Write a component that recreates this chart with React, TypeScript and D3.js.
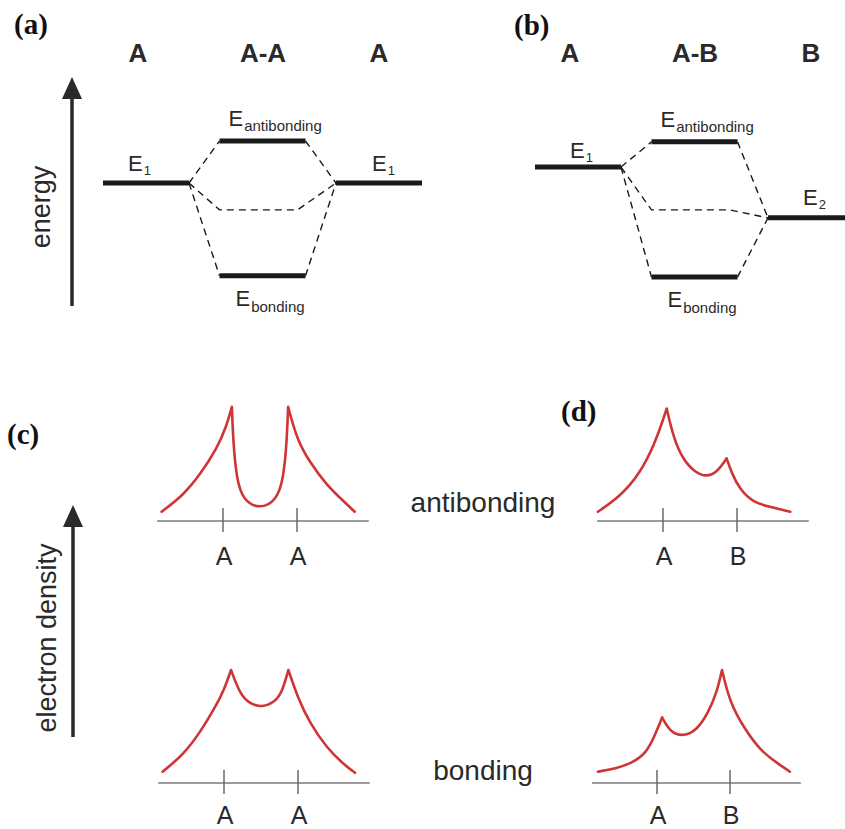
import React from 'react';
import * as d3 from 'd3';

const W = 845;
const H = 829;

// ---------- (a) / (b) energy level diagrams ----------
const headingsA = ['A', 'A-A', 'A'];
const headingsB = ['A', 'A-B', 'B'];
// energies (arbitrary units): [left atom, antibonding, bonding, mean (dashed), right atom]
const levelsA = [0, 1.0, -2.21, -0.64, 0];
const levelsB = [0.38, 0.98, -2.24, -0.64, -0.83];
const leftSubA = '1';
const rightSubA = '1';
const leftSubB = '1';
const rightSubB = '2';

// ---------- (c) / (d) electron density profiles ----------
// x: position along bond axis (first nucleus = 0, second nucleus = 1); v: relative density
const cAntiX = [-0.83, -0.54, -0.31, -0.085, 0.05, 0.12, 0.14, 0.185, 0.27, 0.5, 0.725, 0.815, 0.86, 0.88, 1.0, 1.18, 1.4, 1.63, 1.78];
const cAntiV = [0.08, 0.22, 0.4, 0.62, 0.82, 0.985, 0.66, 0.36, 0.18, 0.1, 0.18, 0.36, 0.66, 0.985, 0.7, 0.5, 0.31, 0.17, 0.08];
const cBondX = [-0.83, -0.55, -0.32, -0.1, 0.01, 0.095, 0.22, 0.35, 0.51, 0.67, 0.78, 0.87, 1.0, 1.16, 1.39, 1.61, 1.77];
const cBondV = [0.1, 0.25, 0.45, 0.69, 0.84, 1.0, 0.78, 0.7, 0.67, 0.71, 0.79, 1.0, 0.75, 0.53, 0.31, 0.17, 0.09];
const dAntiX = [-0.88, -0.58, -0.31, -0.11, 0.0, 0.05, 0.14, 0.27, 0.43, 0.59, 0.73, 0.86, 0.93, 1.04, 1.22, 1.45, 1.72];
const dAntiV = [0.08, 0.21, 0.41, 0.67, 0.87, 0.97, 0.72, 0.53, 0.42, 0.38, 0.42, 0.54, 0.41, 0.27, 0.16, 0.12, 0.08];
const dBondX = [-0.81, -0.55, -0.33, -0.14, -0.03, 0.07, 0.18, 0.36, 0.55, 0.7, 0.82, 0.89, 1.0, 1.18, 1.41, 1.64, 1.82];
const dBondV = [0.1, 0.13, 0.18, 0.27, 0.42, 0.58, 0.45, 0.41, 0.47, 0.62, 0.8, 1.0, 0.71, 0.5, 0.29, 0.18, 0.1];
const nucleiC = ['A', 'A'];
const nucleiD = ['A', 'B'];
const axisDomain = [-0.89, 1.97];
const rowLabels = ['antibonding', 'bonding'];

const SANS = '"Liberation Sans", Arial, Helvetica, sans-serif';
const SERIF = '"Liberation Serif", "Times New Roman", serif';
const INK = '#2a2a2a';
const RED = '#cf3535';

function Tag({ x, y, text }: { x: number; y: number; text: string }) {
  return (
    <text x={x} y={y} fontFamily={SERIF} fontWeight="bold" fontSize={29} fill="#111">
      {text}
    </text>
  );
}

function ELabel({ x, y, sub, subSize, dy }: { x: number; y: number; sub: string; subSize: number; dy: number }) {
  return (
    <text x={x} y={y} fontFamily={SANS} fontSize={22} fill={INK}>
      E
      <tspan fontSize={subSize} dy={dy} dx={1}>
        {sub}
      </tspan>
    </text>
  );
}

function EnergyPanel({
  x0,
  levels,
  headings,
  leftSub,
  rightSub,
  eLabelY,
}: {
  x0: number;
  levels: number[];
  headings: string[];
  leftSub: string;
  rightSub: string;
  eLabelY: number[];
}) {
  const yE = d3.scaleLinear().domain([0, 1]).range([183, 141]);
  const xCol = d3.scaleLinear().domain([0, 2]).range([x0, x0 + 233]);
  const lw = 86;
  const [eL, eAnti, eBond, eMid, eR] = levels;
  const pL: [number, number] = [xCol(0) + lw, yE(eL)];
  const pR: [number, number] = [xCol(2), yE(eR)];
  const lineGen = d3.line();
  const dashes = [
    [pL, [xCol(1), yE(eAnti)]],
    [pL, [xCol(1), yE(eBond)]],
    [pL, [xCol(1), yE(eMid)], [xCol(1) + 78, yE(eMid)], pR],
    [[xCol(1) + lw, yE(eAnti)], pR],
    [[xCol(1) + lw, yE(eBond)], pR],
  ] as [number, number][][];
  const levelSegs: [number, number, number][] = [
    [xCol(0), xCol(0) + lw, yE(eL)],
    [xCol(1), xCol(1) + lw, yE(eAnti)],
    [xCol(1), xCol(1) + lw, yE(eBond)],
    [xCol(2), xCol(2) + lw, yE(eR)],
  ];
  const headX = [35, 160, 276];
  return (
    <g>
      {headings.map((h, i) => (
        <text
          key={i}
          x={x0 + headX[i]}
          y={62}
          textAnchor="middle"
          fontFamily={SANS}
          fontWeight="bold"
          fontSize={26}
          fill={INK}
        >
          {h}
        </text>
      ))}
      {dashes.map((d, i) => (
        <path key={i} d={lineGen(d) || ''} fill="none" stroke="#1a1a1a" strokeWidth={1.4} strokeDasharray="7,5" />
      ))}
      {levelSegs.map((s, i) => (
        <line key={i} x1={s[0]} x2={s[1]} y1={s[2]} y2={s[2]} stroke="#1a1a1a" strokeWidth={5} />
      ))}
      <ELabel x={xCol(0) + eLabelY[0]} y={yE(eL) - eLabelY[1]} sub={leftSub} subSize={13} dy={4} />
      <ELabel x={xCol(2) + eLabelY[2]} y={yE(eR) - eLabelY[3]} sub={rightSub} subSize={13} dy={4} />
      <ELabel x={xCol(1) + 9} y={yE(eAnti) - 15} sub="antibonding" subSize={15} dy={5} />
      <ELabel x={xCol(1) + 16} y={yE(eBond) + 30} sub="bonding" subSize={15} dy={6} />
    </g>
  );
}

function DensityPlot({
  xs,
  vs,
  nuclei,
  x0,
  unit,
  axisY,
  vPx,
  labelDy,
}: {
  xs: number[];
  vs: number[];
  nuclei: string[];
  x0: number;
  unit: number;
  axisY: number;
  vPx: number;
  labelDy: number;
}) {
  const sx = d3.scaleLinear().domain([0, 1]).range([x0, x0 + unit]);
  const sy = d3.scaleLinear().domain([0, 1]).range([axisY, axisY - vPx]);
  const pts: [number, number][] = xs.map((x, i) => [x, vs[i]]);
  // split at cusps (local maxima)
  const segs: [number, number][][] = [];
  let cur: [number, number][] = [];
  pts.forEach((p, i) => {
    cur.push(p);
    if (i > 0 && i < pts.length - 1 && p[1] > pts[i - 1][1] && p[1] > pts[i + 1][1]) {
      segs.push(cur);
      cur = [p];
    }
  });
  segs.push(cur);
  const line = d3
    .line<[number, number]>()
    .x((d) => sx(d[0]))
    .y((d) => sy(d[1]))
    .curve(d3.curveBasis);
  const d = segs.map((s) => line(s) || '').join('');
  return (
    <g>
      <line x1={sx(axisDomain[0])} x2={sx(axisDomain[1])} y1={axisY} y2={axisY} stroke="#7a7a7a" strokeWidth={1.5} />
      {nuclei.map((n, i) => (
        <g key={i}>
          <line x1={sx(i)} x2={sx(i)} y1={axisY - 13} y2={axisY + 11} stroke="#6a6a6a" strokeWidth={1.5} />
          <text x={sx(i) + 1} y={axisY + labelDy} textAnchor="middle" fontFamily={SANS} fontSize={25} fill={INK}>
            {n}
          </text>
        </g>
      ))}
      <path d={d} fill="none" stroke={RED} strokeWidth={2.6} strokeLinejoin="round" strokeLinecap="round" />
    </g>
  );
}

function Arrow({ x, yTop, yBottom }: { x: number; yTop: number; yBottom: number }) {
  return (
    <g>
      <line x1={x} x2={x} y1={yBottom} y2={yTop + 20} stroke="#2a2a2a" strokeWidth={3.5} />
      <path d={`M${x - 10},${yTop + 22} L${x},${yTop} L${x + 10},${yTop + 22} Z`} fill="#2a2a2a" />
    </g>
  );
}

export default function App() {
  return (
    <svg
      width={W}
      height={H}
      viewBox={`0 0 ${W} ${H}`}
      style={{ position: 'absolute', left: 0, top: 0, display: 'block', background: '#fff' }}
    >
      <rect width={W} height={H} fill="#fff" />
      <Tag x={14} y={34} text="(a)" />
      <Tag x={514} y={35} text="(b)" />
      <Tag x={7} y={444} text="(c)" />
      <Tag x={561} y={421} text="(d)" />

      {/* energy axis */}
      <Arrow x={72} yTop={77} yBottom={306} />
      <text
        transform="translate(50,207) rotate(-90)"
        textAnchor="middle"
        fontFamily={SANS}
        fontSize={27}
        fill={INK}
      >
        energy
      </text>

      <EnergyPanel
        x0={103}
        levels={levelsA}
        headings={headingsA}
        leftSub={leftSubA}
        rightSub={rightSubA}
        eLabelY={[25, 12, 36, 12]}
      />
      <EnergyPanel
        x0={535}
        levels={levelsB}
        headings={headingsB}
        leftSub={leftSubB}
        rightSub={rightSubB}
        eLabelY={[35, 9, 35, 13]}
      />

      {/* electron density axis */}
      <Arrow x={73} yTop={505} yBottom={737} />
      <text
        transform="translate(56,638) rotate(-90)"
        textAnchor="middle"
        fontFamily={SANS}
        fontSize={27}
        fill={INK}
      >
        electron density
      </text>

      <text x={483} y={512} textAnchor="middle" fontFamily={SANS} fontSize={28} fill={INK}>
        {rowLabels[0]}
      </text>
      <text x={483} y={780} textAnchor="middle" fontFamily={SANS} fontSize={28} fill={INK}>
        {rowLabels[1]}
      </text>

      <DensityPlot xs={cAntiX} vs={cAntiV} nuclei={nucleiC} x0={223} unit={74} axisY={521} vPx={116} labelDy={44} />
      <DensityPlot xs={cBondX} vs={cBondV} nuclei={nucleiC} x0={224} unit={74} axisY={783} vPx={113} labelDy={41} />
      <DensityPlot xs={dAntiX} vs={dAntiV} nuclei={nucleiD} x0={663} unit={74} axisY={521} vPx={116} labelDy={44} />
      <DensityPlot xs={dBondX} vs={dBondV} nuclei={nucleiD} x0={657} unit={73} axisY={783} vPx={113} labelDy={41} />
    </svg>
  );
}
